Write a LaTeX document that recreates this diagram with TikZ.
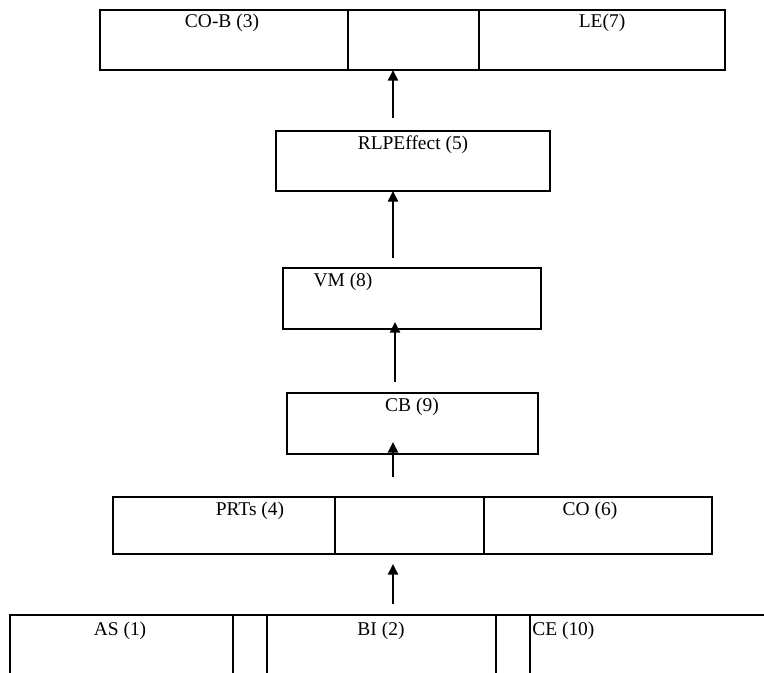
\documentclass[tikz,border=0pt]{standalone}
\usepackage{fontspec}
\setmainfont{Liberation Serif}
\usetikzlibrary{arrows.meta}
\newcommand\cellnode[5]{\node[cell, minimum width={(#4-#2)*0.75pt}, minimum height={(#5-#3)*0.75pt}] (#1) at (#2,#3) {};}
\begin{document}
\begin{tikzpicture}[x=0.75pt,y=-0.75pt,
 cell/.style={draw, line width=1.1pt, inner sep=0pt, outer sep=0pt, anchor=north west},
 lbl/.style={font=\fontsize{14.6}{17}\selectfont, inner sep=0pt, anchor=center},
 up/.style={line width=1.9pt, -{Triangle[width=7.5pt,length=8pt]}}]
\path[use as bounding box] (0,0) rectangle (764,672);
\clip (0,0) rectangle (764,672);
% top row
\cellnode{topA}{100}{10}{348}{70}
\cellnode{topB}{348}{10}{479}{70}
\cellnode{topC}{479}{10}{725}{70}
\node[lbl] (tCOB) at (222,23) {CO-B (3)};
\node[lbl] (tLE) at (602,23) {LE(7)};
% RLPEffect
\cellnode{rlp}{276}{131}{550}{191}
\node[lbl] (tRLP) at (413,145) {RLPEffect (5)};
% VM
\cellnode{vm}{283}{268}{541}{329}
\node[lbl] (tVM) at (343,282) {VM (8)};
% CB
\cellnode{cb}{287}{393}{538}{454}
\node[lbl] (tCB) at (412,407) {CB (9)};
% PRTs row
\cellnode{prA}{113}{497}{335}{554}
\node[lbl] (tPR) at (250,511) {PRTs (4)};
\cellnode{prB}{335}{497}{484}{554}
\cellnode{prC}{484}{497}{712}{554}
\node[lbl] (tCO) at (590,511) {CO (6)};
% bottom row
\cellnode{bA}{10}{615}{233}{700}
\cellnode{bB}{233}{615}{267}{700}
\cellnode{bC}{267}{615}{496}{700}
\cellnode{bD}{496}{615}{530}{700}
\cellnode{bE}{530}{615}{790}{700}
\node[lbl] (tAS) at (120,631) {AS (1)};
\node[lbl] (tBI) at (381,631) {BI (2)};
\node[lbl, anchor=west] (tCE) at (532,631) {CE (10)};
% arrows
\coordinate (a1) at (393,118);
\draw[up] (a1) -- (a1 |- topB.south);
\coordinate (a2) at (393,258);
\draw[up] (a2) -- (a2 |- rlp.south);
\coordinate (a3) at (395,382);
\coordinate (h3) at (395,322);
\draw[up] (a3) -- (h3);
\coordinate (a4) at (393,477);
\coordinate (h4) at (393,442);
\draw[up] (a4) -- (h4);
\coordinate (a5) at (393,604);
\coordinate (h5) at (393,564);
\draw[up] (a5) -- (h5);
\end{tikzpicture}
\end{document}
